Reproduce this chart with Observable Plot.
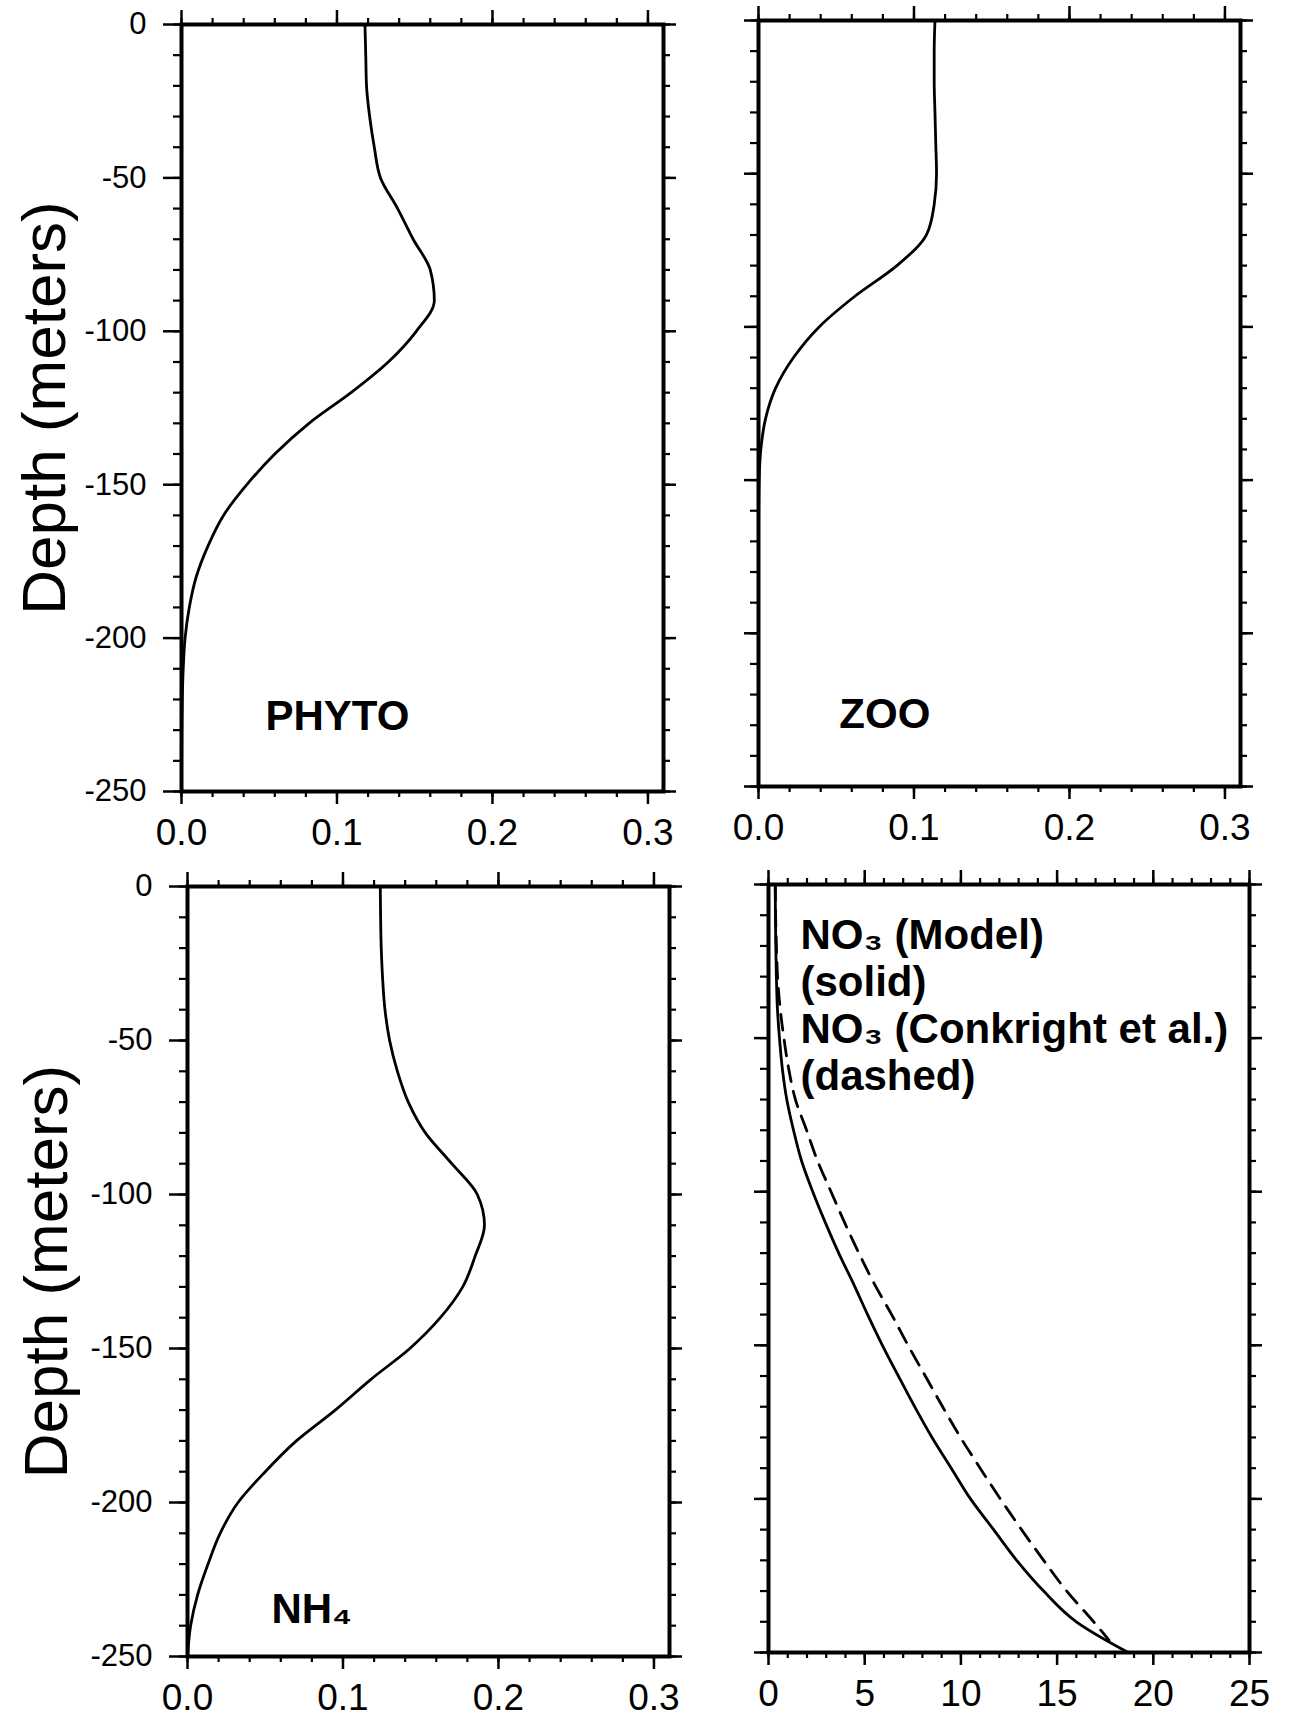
<!DOCTYPE html>
<html><head><meta charset="utf-8">
<script src="https://cdn.jsdelivr.net/npm/d3@7"></script>
<script src="https://cdn.jsdelivr.net/npm/@observablehq/plot@0.6"></script>
<style>
html,body{margin:0;padding:0;background:#fff;}
#wrap{position:relative;width:1289px;height:1724px;overflow:hidden;background:#fff;}
#wrap > div{position:absolute;}
</style></head><body><div id="wrap"></div>
<script>
// ---- data ----
const depth = [0,-10,-20,-30,-40,-50,-60,-70,-80,-90,-100,-110,-120,-130,-140,-150,-160,-170,-180,-190,-200,-210,-220,-230,-240,-250];
const phyto = [0.118,0.1185,0.119,0.121,0.124,0.128,0.139,0.149,0.160,0.1626,0.151,0.133,0.109,0.082,0.060,0.042,0.027,0.017,0.0095,0.005,0.0023,0.0011,0.0005,0.0002,0.0001,0];
const zoo = [0.1135,0.113,0.113,0.1135,0.114,0.1145,0.113,0.108,0.089,0.062,0.039,0.0225,0.011,0.0045,0.0015,0.0004,0.0001,0,0,0,0,0,0,0,0,0];
const nh4 = [0.124,0.1242,0.1246,0.1255,0.127,0.130,0.135,0.142,0.153,0.170,0.1864,0.191,0.185,0.177,0.1626,0.143,0.118,0.095,0.070,0.050,0.0325,0.021,0.0132,0.0065,0.002,0];
const no3Model = [0.35,0.36,0.38,0.41,0.46,0.57,0.72,0.95,1.3,1.72,2.3,2.95,3.65,4.42,5.15,5.92,6.75,7.6,8.5,9.5,10.5,11.7,12.9,14.3,16.0,18.7];
const obsDepth = [0,-10,-20,-30,-40,-50,-60,-70,-80,-90,-100,-110,-120,-130,-140,-150,-160,-170,-180,-190,-200,-210,-220,-230,-240,-246];
const no3Obs = [0.35,0.37,0.41,0.47,0.6,0.8,1.05,1.4,1.98,2.55,3.25,3.95,4.7,5.5,6.4,7.25,8.15,9.05,9.98,11.0,12.05,13.15,14.3,15.5,16.9,17.7];
const depthMajor = [0,-50,-100,-150,-200,-250];
const depthMinor = d3.range(-250, 1, 10);
const smallMajor = [0,0.1,0.2,0.3];
const smallMinor = d3.range(0, 0.3001, 0.02);
const no3Major = [0,5,10,15,20,25];
const no3Minor = d3.range(0, 25.001, 1);
const yTitle = "Depth (meters)";
const legendLines = ["NO₃ (Model)", "(solid)", "NO₃ (Conkright et al.)", "(dashed)"];

const FONT = "'Liberation Sans', Arial, Helvetica, sans-serif";
const blank = () => "";

function panel(cfg) {
  const marks = [
    Plot.axisY(depthMinor, {anchor: "left", tickSize: cfg.yl[1], tickFormat: blank, strokeWidth: 2.2, label: null}),
    Plot.axisY(depthMajor, {anchor: "left", tickSize: cfg.yl[0], tickPadding: 17,
      tickFormat: cfg.showY ? (d => String(d)) : blank, fontSize: 31, strokeWidth: 2.5, label: null}),
    Plot.axisY(depthMinor, {anchor: "right", tickSize: 6, tickFormat: blank, strokeWidth: 2.2, label: null}),
    Plot.axisY(depthMajor, {anchor: "right", tickSize: 12, tickFormat: blank, strokeWidth: 2.5, label: null}),
    Plot.axisX(cfg.xMinor, {anchor: "top", tickSize: 7, tickFormat: blank, strokeWidth: 2.2, label: null}),
    Plot.axisX(cfg.xMajor, {anchor: "top", tickSize: 15, tickFormat: blank, strokeWidth: 2.5, label: null}),
    Plot.axisX(cfg.xMinor, {anchor: "bottom", tickSize: 6, tickFormat: blank, strokeWidth: 2.2, label: null}),
    Plot.axisX(cfg.xMajor, {anchor: "bottom", tickSize: 13, tickPadding: 14, tickFormat: cfg.xFormat,
      fontSize: 37, strokeWidth: 2.5, label: null}),
    Plot.frame({stroke: "black", strokeWidth: 4})
  ];
  for (const s of cfg.series) {
    marks.push(Plot.line(s.values.map((v, i) => ({x: v, y: s.depth[i]})),
      {x: "x", y: "y", stroke: "black", strokeWidth: 2.8, strokeDasharray: s.dash || null,
       strokeLinejoin: "round", curve: "monotone-y"}));
  }
  if (cfg.showY) {
    marks.push(Plot.text([yTitle], {text: d => d, frameAnchor: "left", rotate: -90, dx: cfg.titleDx,
      textAnchor: "middle", lineAnchor: "bottom", fontSize: 62}));
  }
  if (cfg.label) {
    marks.push(Plot.text([cfg.label], {x: "x", y: "y", text: "t", textAnchor: "start", lineAnchor: "bottom",
      fontSize: 42, fontWeight: "bold"}));
  }
  if (cfg.legend) {
    marks.push(Plot.text([cfg.legend.join("\n")], {text: d => d, frameAnchor: "top-left", dx: 32, dy: 31,
      textAnchor: "start", lineAnchor: "top", lineHeight: 1.12, fontSize: 42, fontWeight: "bold"}));
  }
  const svg = Plot.plot({
    width: cfg.w, height: cfg.h,
    marginLeft: cfg.ml, marginRight: cfg.mr, marginTop: cfg.mt, marginBottom: cfg.mb,
    x: {domain: cfg.xDomain, axis: null},
    y: {domain: [-250, 0], axis: null},
    style: {background: "transparent", fontFamily: FONT, overflow: "visible", maxWidth: "none", color: "black"},
    marks
  });
  const div = document.createElement("div");
  div.style.left = cfg.left + "px";
  div.style.top = cfg.top + "px";
  div.appendChild(svg);
  document.getElementById("wrap").appendChild(div);
}

const fmt1 = d3.format(".1f");

panel({left: 0, top: 0, w: 720, h: 860, ml: 181, mr: 57, mt: 24, mb: 69,
  xDomain: [0, 0.31], xMajor: smallMajor, xMinor: smallMinor, xFormat: fmt1,
  showY: true, yl: [18, 8], titleDx: -117,
  series: [{values: phyto, depth}],
  label: {x: 0.054, y: -230, t: "PHYTO"}});

panel({left: 720, top: 0, w: 569, h: 860, ml: 38, mr: 49, mt: 20, mb: 74,
  xDomain: [0, 0.31], xMajor: smallMajor, xMinor: smallMinor, xFormat: fmt1,
  showY: false, yl: [14, 8],
  series: [{values: zoo, depth}],
  label: {x: 0.052, y: -231, t: "ZOO"}});

panel({left: 0, top: 860, w: 720, h: 864, ml: 187, mr: 51, mt: 26, mb: 68,
  xDomain: [0, 0.31], xMajor: smallMajor, xMinor: smallMinor, xFormat: fmt1,
  showY: true, yl: [18, 8], titleDx: -121,
  series: [{values: nh4, depth}],
  label: {x: 0.054, y: -239, t: "NH₄"}});

panel({left: 720, top: 860, w: 569, h: 864, ml: 48, mr: 40, mt: 24, mb: 72,
  xDomain: [0, 25], xMajor: no3Major, xMinor: no3Minor, xFormat: d => String(d),
  showY: false, yl: [14, 8],
  series: [{values: no3Model, depth}, {values: no3Obs, depth: obsDepth, dash: "16,10"}],
  legend: legendLines});
</script></body></html>
